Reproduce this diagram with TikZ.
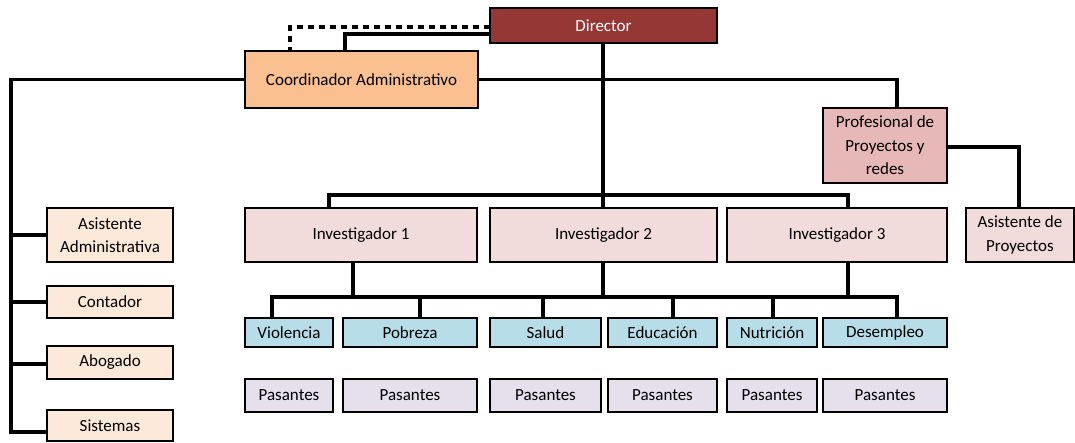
\documentclass[tikz,border=0pt]{standalone}
\usepackage{fontspec}
\setmainfont{Carlito}
\definecolor{dirc}{HTML}{953735}
\definecolor{coordc}{HTML}{FAC090}
\definecolor{leftc}{HTML}{FDE9D9}
\definecolor{profc}{HTML}{E6B9B8}
\definecolor{invc}{HTML}{F2DCDB}
\definecolor{topc}{HTML}{B7DEE8}
\definecolor{pasc}{HTML}{E5E0EC}
\newcommand{\bx}[7]{%
  \node[box,#6,minimum width={(#4-#2)*1pt},minimum height={(#5-#3)*1pt}] (#1) at ({(#2+#4)/2},{(#3+#5)/2}) {#7};}
\tikzset{
  box/.style={draw=black,line width=2.4pt,inner sep=0pt,align=center,font=\fontsize{17}{23.5}\selectfont},
  conn/.style={draw=black,line width=3.2pt},
  dashconn/.style={draw=black,line width=3.2pt,dash pattern=on 6pt off 5pt},
}
\begin{document}
\begin{tikzpicture}[x=1pt,y=-1pt]
\useasboundingbox (0,0) rectangle (1075,443);
\coordinate (dashc) at (290,27);
\coordinate (solc) at (345,34);
\coordinate (lbtop) at (11,79);
\coordinate (lbend) at (11,432);
\coordinate (ibus) at (603,195);
\coordinate (lbus) at (603,297);
\coordinate (pbend) at (1019,147);

% connectors (drawn first, boxes on top)
\draw[dashconn] (490,27) -- (dashc) -- (290,51);
\draw[conn] (490,34) -- (solc) -- (345,51);
\draw[conn] (603,43) -- (ibus);
\draw[conn] (329,208) |- (ibus) -| (848,208);
\draw[conn] (ibus) -- (603,208);
\draw[conn] (478,79.5) -| (897,108);
\draw[conn] (245,79.5) -| (lbend) -- (47,432);
\draw[conn] (lbtop |- 0,235) -- (47,235);
\draw[conn] (lbtop |- 0,302) -- (47,302);
\draw[conn] (lbtop |- 0,364) -- (47,364);
\draw[conn] (947,147) -| (1019,208);
\draw[conn] (353,262) -- (353,297);
\draw[conn] (603,262) -- (lbus);
\draw[conn] (848,262) -- (848,297);
\draw[conn] (272,318) |- (lbus) -| (897,318);
\draw[conn] (420,318) -- (420,297);
\draw[conn] (543,318) -- (543,297);
\draw[conn] (673,318) -- (673,297);
\draw[conn] (773,318) -- (773,297);

\bx{dir}{490}{8}{717}{43}{fill=dirc,text=white}{Director}
\bx{coord}{245}{51}{478}{108}{fill=coordc}{Coordinador Administrativo}
\bx{prof}{823}{108}{947}{183}{fill=profc}{Profesional de\\Proyectos y\\redes}
\bx{asp}{966}{208}{1073.8}{262}{fill=invc}{Asistente de\\Proyectos}
\bx{aa}{47}{208}{173}{262}{fill=leftc}{Asistente\\Administrativa}
\bx{cont}{47}{286}{173}{318}{fill=leftc}{Contador}
\bx{abo}{47}{346}{173}{379}{fill=leftc}{Abogado}
\bx{sis}{47}{410}{173}{441}{fill=leftc}{Sistemas}
\bx{inv1}{245}{208}{477}{262}{fill=invc}{Investigador 1}
\bx{inv2}{490}{208}{717}{262}{fill=invc}{Investigador 2}
\bx{inv3}{727}{208}{947}{262}{fill=invc}{Investigador 3}
\bx{vio}{245}{318}{333}{347}{fill=topc}{Violencia}
\bx{pob}{343}{318}{477}{347}{fill=topc}{Pobreza}
\bx{sal}{490}{318}{601}{347}{fill=topc}{Salud}
\bx{edu}{608}{318}{717}{347}{fill=topc}{Educación}
\bx{nut}{727}{318}{817}{347}{fill=topc}{Nutrición}
\bx{des}{823}{318}{947}{347}{fill=topc}{Desempleo}
\bx{p1}{245}{379}{333}{412}{fill=pasc}{Pasantes}
\bx{p2}{343}{379}{477}{412}{fill=pasc}{Pasantes}
\bx{p3}{490}{379}{601}{412}{fill=pasc}{Pasantes}
\bx{p4}{608}{379}{717}{412}{fill=pasc}{Pasantes}
\bx{p5}{727}{379}{817}{412}{fill=pasc}{Pasantes}
\bx{p6}{823}{379}{947}{412}{fill=pasc}{Pasantes}
\end{tikzpicture}
\end{document}
